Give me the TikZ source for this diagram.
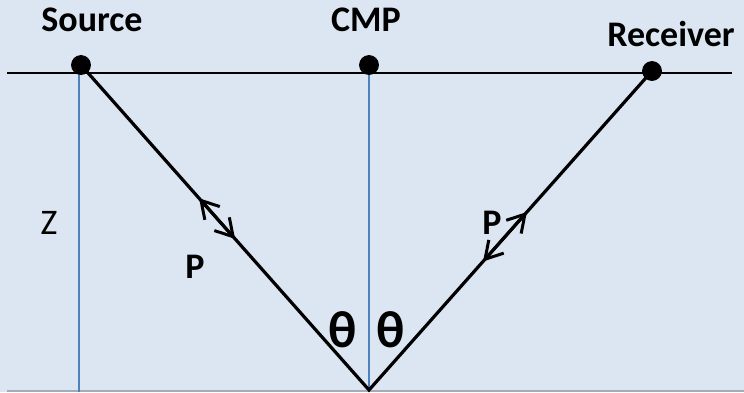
\documentclass[tikz,border=0pt]{standalone}
\usepackage{fontspec}
\setmainfont{Carlito}
\usetikzlibrary{arrows.meta,positioning,calc}
\definecolor{cBack}{RGB}{220,230,242}
\definecolor{cDepth}{RGB}{79,129,189}
\definecolor{cEdge}{RGB}{165,172,182}

\begin{document}
\begin{tikzpicture}[x=0.5pt,y=-0.5pt,
  ray/.style={line width=1.6pt},
  wave/.style={line width=1.5pt,{Straight Barb[length=8.5pt,width=10pt]}-{Straight Barb[length=8.5pt,width=10pt]}},
  lbl/.style={font=\fontsize{18}{20}\selectfont\bfseries},
  ang/.style={font=\fontsize{26}{28}\selectfont\bfseries}]
  % Background
  \fill[cBack] (0,0) rectangle (744,392);
  \useasboundingbox (0,0) rectangle (744,392);
  \coordinate (edgeL) at (7,391);
  \coordinate (edgeR) at (744,391);
  \draw[cEdge,line width=0.8pt] (edgeL) -- (edgeR);
  % Surface
  \coordinate (surfL) at (7,73);
  \coordinate (surfR) at (732,73);
  \draw[line width=1pt] (surfL) -- (surfR);
  % Shot points
  \coordinate (src) at (81,65);
  \coordinate (cmp) at (369,65);
  \coordinate (rcv) at (652,71);
  \coordinate (apex) at (369,390);
  % Depth lines
  \coordinate (srcTop) at (79,73);
  \coordinate (srcBot) at (79,392);
  \coordinate (cmpTop) at (369,73);
  \coordinate (cmpBot) at (369,392);
  \draw[cDepth,line width=1pt] (srcTop) -- (srcBot);
  \draw[cDepth,line width=1pt] (cmpTop) -- (cmpBot);
  % Rays
  \draw[ray] (src) -- (apex) -- (rcv);
  \draw[wave] ($(src)!0.41!(apex)$) -- ($(src)!0.535!(apex)$);
  \draw[wave] ($(apex)!0.403!(rcv)$) -- ($(apex)!0.558!(rcv)$);
  \filldraw (src) circle (9.5);
  \filldraw (cmp) circle (9.5);
  \filldraw (rcv) circle (9.5);
  % Labels
  \node[lbl] (srcLbl) at (92,20) {Source};
  \node[lbl] (cmpLbl) at (366,20) {CMP};
  \node[lbl] (rcvLbl) at (671,34) {Receiver};
  \node[font=\fontsize{18}{20}\selectfont] (zLbl) at (49,223) {Z};
  \node[lbl] (pLeft) at (195,267) {P};
  \node[lbl] (pRight) at (492,223) {P};
  \node[ang] (thLeft) at (343,330) {θ};
  \node[ang] (thRight) at (391,330) {θ};
\end{tikzpicture}
\end{document}
